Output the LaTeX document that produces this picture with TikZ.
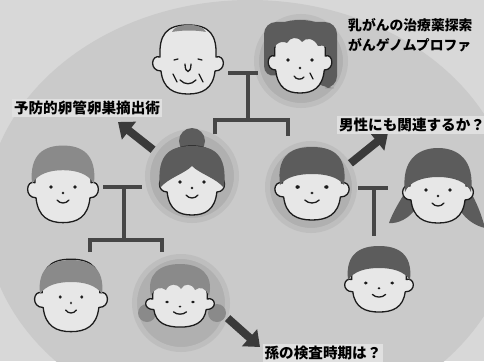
\documentclass[tikz,border=0pt]{standalone}
\usepackage{fontspec}
\newfontfamily\jpfont{Noto Sans CJK JP}
\usetikzlibrary{arrows.meta}

\definecolor{paper}{HTML}{D8D8D8}
\definecolor{blob}{HTML}{CACACA}
\definecolor{tagc}{HTML}{E0E0E0}
\definecolor{skin}{HTML}{E7E7E7}
\definecolor{ink}{HTML}{1C1C1C}
\definecolor{hairmid}{HTML}{8A8A8A}
\definecolor{hairdark}{HTML}{5C5C5C}
\definecolor{disc}{HTML}{B0B0B0}
\definecolor{rim}{HTML}{BEBEBE}
\definecolor{linkc}{HTML}{464646}
\definecolor{arrowc}{HTML}{3A3A3A}

\tikzset{
  pics/head/.style={code={
    \filldraw[fill=skin, draw=ink, line width=1.3pt, line join=round]
      (0,-36) .. controls (22,-36) and (29,-26) .. (28,-4)
      .. controls (37,-7) and (39,10) .. (27,10)
      .. controls (25,28) and (14,33) .. (0,33)
      .. controls (-14,33) and (-25,28) .. (-27,10)
      .. controls (-39,10) and (-37,-7) .. (-28,-4)
      .. controls (-29,-26) and (-22,-36) .. (0,-36) -- cycle;
  }},
  pics/smiley/.style={code={
    \fill[ink] (-12,0) circle (1.8) (12,0) circle (1.8) (0,6) circle (1.3);
    \draw[ink, line width=1.3pt, line cap=round] (-6,13) .. controls (-3,17) and (3,17) .. (6,13);
  }},
  pics/cap/.style={code={
    \fill[#1] (-31,-3) .. controls (-34,-30) and (-18,-37) .. (0,-37)
      .. controls (18,-37) and (34,-30) .. (31,-3)
      .. controls (25,-12) and (13,-15) .. (0,-15)
      .. controls (-13,-15) and (-25,-12) .. (-31,-3) -- cycle;
  }},
  pen/.style={ink, line width=1.3pt, line cap=round}
}

\begin{document}
\begin{tikzpicture}[x=1pt, y=-1pt,
    link/.style={draw=linkc, line width=4pt},
    bigarrow/.style={draw=arrowc, line width=8pt, -{Triangle[length=14pt,width=22pt]}},
    ring/.style={circle, fill=disc, draw=rim, line width=5pt, inner sep=0pt},
    tag/.style={font=\jpfont\bfseries\fontsize{14.6}{20}\selectfont, fill=tagc, inner sep=2pt}]
  \useasboundingbox (0,0) rectangle (484,361);
  \clip (0,0) rectangle (484,361);
  \fill[paper] (0,0) rectangle (484,361);
  \fill[blob] (250,215) ellipse [x radius=265, y radius=215];

  % circled family members
  \node[ring, minimum size=89pt] (grandma) at (301,61) {};
  \node[ring, minimum size=89pt] (mother) at (192,176) {};
  \node[ring, minimum size=87pt] (father) at (311,187) {};
  \node[ring, minimum size=93pt] (daughter) at (181,303) {};

  % pedigree lines
  \draw[link] (228,73) -- (258,73) (248,73) -- (248,120);
  \draw[link] (215,134) -- (215,120) -- (288,120) -- (288,136);
  \draw[link] (103,187) -- (142,187) (124,187) -- (124,240);
  \draw[link] (90,252) -- (90,240) -- (162,240) -- (162,252);
  \draw[link] (358,188) -- (388,188) (374,188) -- (374,236);

  % grandfather
  \begin{scope}[shift={(188,61)}]
    \pic {head};
    \fill[hairmid] (-16,-29) .. controls (-14,-38) and (14,-39) .. (18,-29)
      .. controls (8,-31) and (-6,-31) .. (-16,-29) -- cycle;
    \draw[pen] (-14,-1) -- (-10,-2) (10,-2) -- (14,-1);
    \draw[pen] (-3,3) .. controls (-3,13) and (3,13) .. (3,3);
    \draw[pen] (-8,19) .. controls (-3,24) and (3,24) .. (8,19);
    \draw[pen] (-15,13) -- (-11,21) (11,13) -- (15,21);
  \end{scope}

  % grandmother
  \begin{scope}[shift={(300,60)}]
    \fill[hairdark, rounded corners=12] (-36,18) -- (-36,-38) -- (37,-38) -- (37,28) -- (22,28) -- (0,10) -- cycle;
    \pic[xscale=.9] {head};
    \fill[hairdark] (-33,0) .. controls (-36,-34) and (-18,-40) .. (0,-40)
      .. controls (20,-40) and (36,-32) .. (33,-2)
      .. controls (30,-12) and (24,-16) .. (18,-14)
      .. controls (14,-22) and (6,-23) .. (2,-18)
      .. controls (-2,-24) and (-10,-23) .. (-13,-17)
      .. controls (-20,-21) and (-28,-14) .. (-33,0) -- cycle;
    \fill[ink] (-12,0) circle (1.8) (12,0) circle (1.8) (0,8) circle (1.3);
    \draw[pen] (-6,16) .. controls (-4,20) and (2,20) .. (4,17) (10,13) -- (13,19);
  \end{scope}

  % mother
  \begin{scope}[shift={(192,182)}]
    \fill[hairdark] (0,-41) circle (13);
    \pic[xscale=.92] {head};
    \fill[hairdark] (-32,6) .. controls (-36,-30) and (-20,-36) .. (0,-36)
      .. controls (20,-36) and (36,-30) .. (32,6)
      .. controls (24,-4) and (8,-8) .. (0,-16)
      .. controls (-8,-8) and (-24,-4) .. (-32,6) -- cycle;
    \pic {smiley};
  \end{scope}

  % father
  \begin{scope}[shift={(312,187)}]
    \pic[xscale=1.05] {head};
    \fill[hairdark] (-32,-2) .. controls (-36,-34) and (-18,-40) .. (0,-40)
      .. controls (18,-40) and (36,-34) .. (32,-2)
      .. controls (26,-10) and (14,-13) .. (0,-13)
      .. controls (-14,-13) and (-26,-10) .. (-32,-2) -- cycle;
    \pic[xscale=1.2] {smiley};
  \end{scope}

  % wife, with pigtails
  \begin{scope}[shift={(438,190)}]
    \fill[hairdark] (-30,-2) .. controls (-38,10) and (-46,24) .. (-49,33)
      .. controls (-40,34) and (-28,28) .. (-22,18) -- cycle;
    \fill[hairdark] (30,-2) .. controls (38,10) and (44,26) .. (47,38)
      .. controls (38,36) and (28,30) .. (22,20) -- cycle;
    \pic {head};
    \fill[hairdark] (-33,2) .. controls (-37,-30) and (-20,-42) .. (0,-42)
      .. controls (20,-42) and (37,-30) .. (33,2)
      .. controls (29,-8) and (16,-13) .. (0,-13)
      .. controls (-16,-13) and (-29,-8) .. (-33,2) -- cycle;
    \pic {smiley};
  \end{scope}

  % mother's sister
  \begin{scope}[shift={(63,187)}]
    \pic[yscale=1.08] {head};
    \pic[yscale=1.12] {cap=hairmid};
    \pic {smiley};
  \end{scope}

  % grandson
  \begin{scope}[shift={(71,297)}]
    \pic[xscale=1.03, yscale=1.05] {head};
    \pic {cap=hairmid};
    \pic[xscale=.9] {smiley};
  \end{scope}

  % granddaughter
  \begin{scope}[shift={(180,302)}]
    \fill[hairmid] (-33,11) circle (9) (37,11) circle (9);
    \pic[xscale=.97, yscale=.76] {head};
    \fill[hairmid] (-29,-6) .. controls (-34,-28) and (-20,-38) .. (0,-38)
      .. controls (20,-38) and (34,-28) .. (29,-6)
      .. controls (26,-14) and (20,-16) .. (15,-12)
      .. controls (12,-19) and (4,-19) .. (1,-13)
      .. controls (-3,-19) and (-11,-19) .. (-14,-12)
      .. controls (-19,-16) and (-26,-14) .. (-29,-6) -- cycle;
    \pic[xscale=1.08, yscale=.76] {smiley};
  \end{scope}

  % father's son
  \begin{scope}[shift={(379,283)}]
    \pic[xscale=.97, yscale=.88] {head};
    \pic {cap=hairdark};
    \pic[xscale=1.1, yscale=.88] {smiley};
  \end{scope}

  % arrows to the questions
  \coordinate (tip1) at (118,122);
  \coordinate (tip2) at (388,133);
  \coordinate (tip3) at (260,347);
  \draw[bigarrow] (mother.146) -- (tip1);
  \draw[bigarrow] (father.31) -- (tip2);
  \draw[bigarrow] (daughter.-18) -- (tip3);

  \node[tag] (surgery) at (87,108) {予防的卵管卵巣摘出術};
  \node[tag] (male) at (412,125) {男性にも関連するか？};
  \node[tag, fill=none, align=left, anchor=west, font=\jpfont\bfseries\fontsize{13.8}{20}\selectfont] (drug) at (346,35) {乳がんの治療薬探索\\がんゲノムプロファ};
  \node[tag] (grandkid) at (323,353) {孫の検査時期は？};
\end{tikzpicture}
\end{document}
